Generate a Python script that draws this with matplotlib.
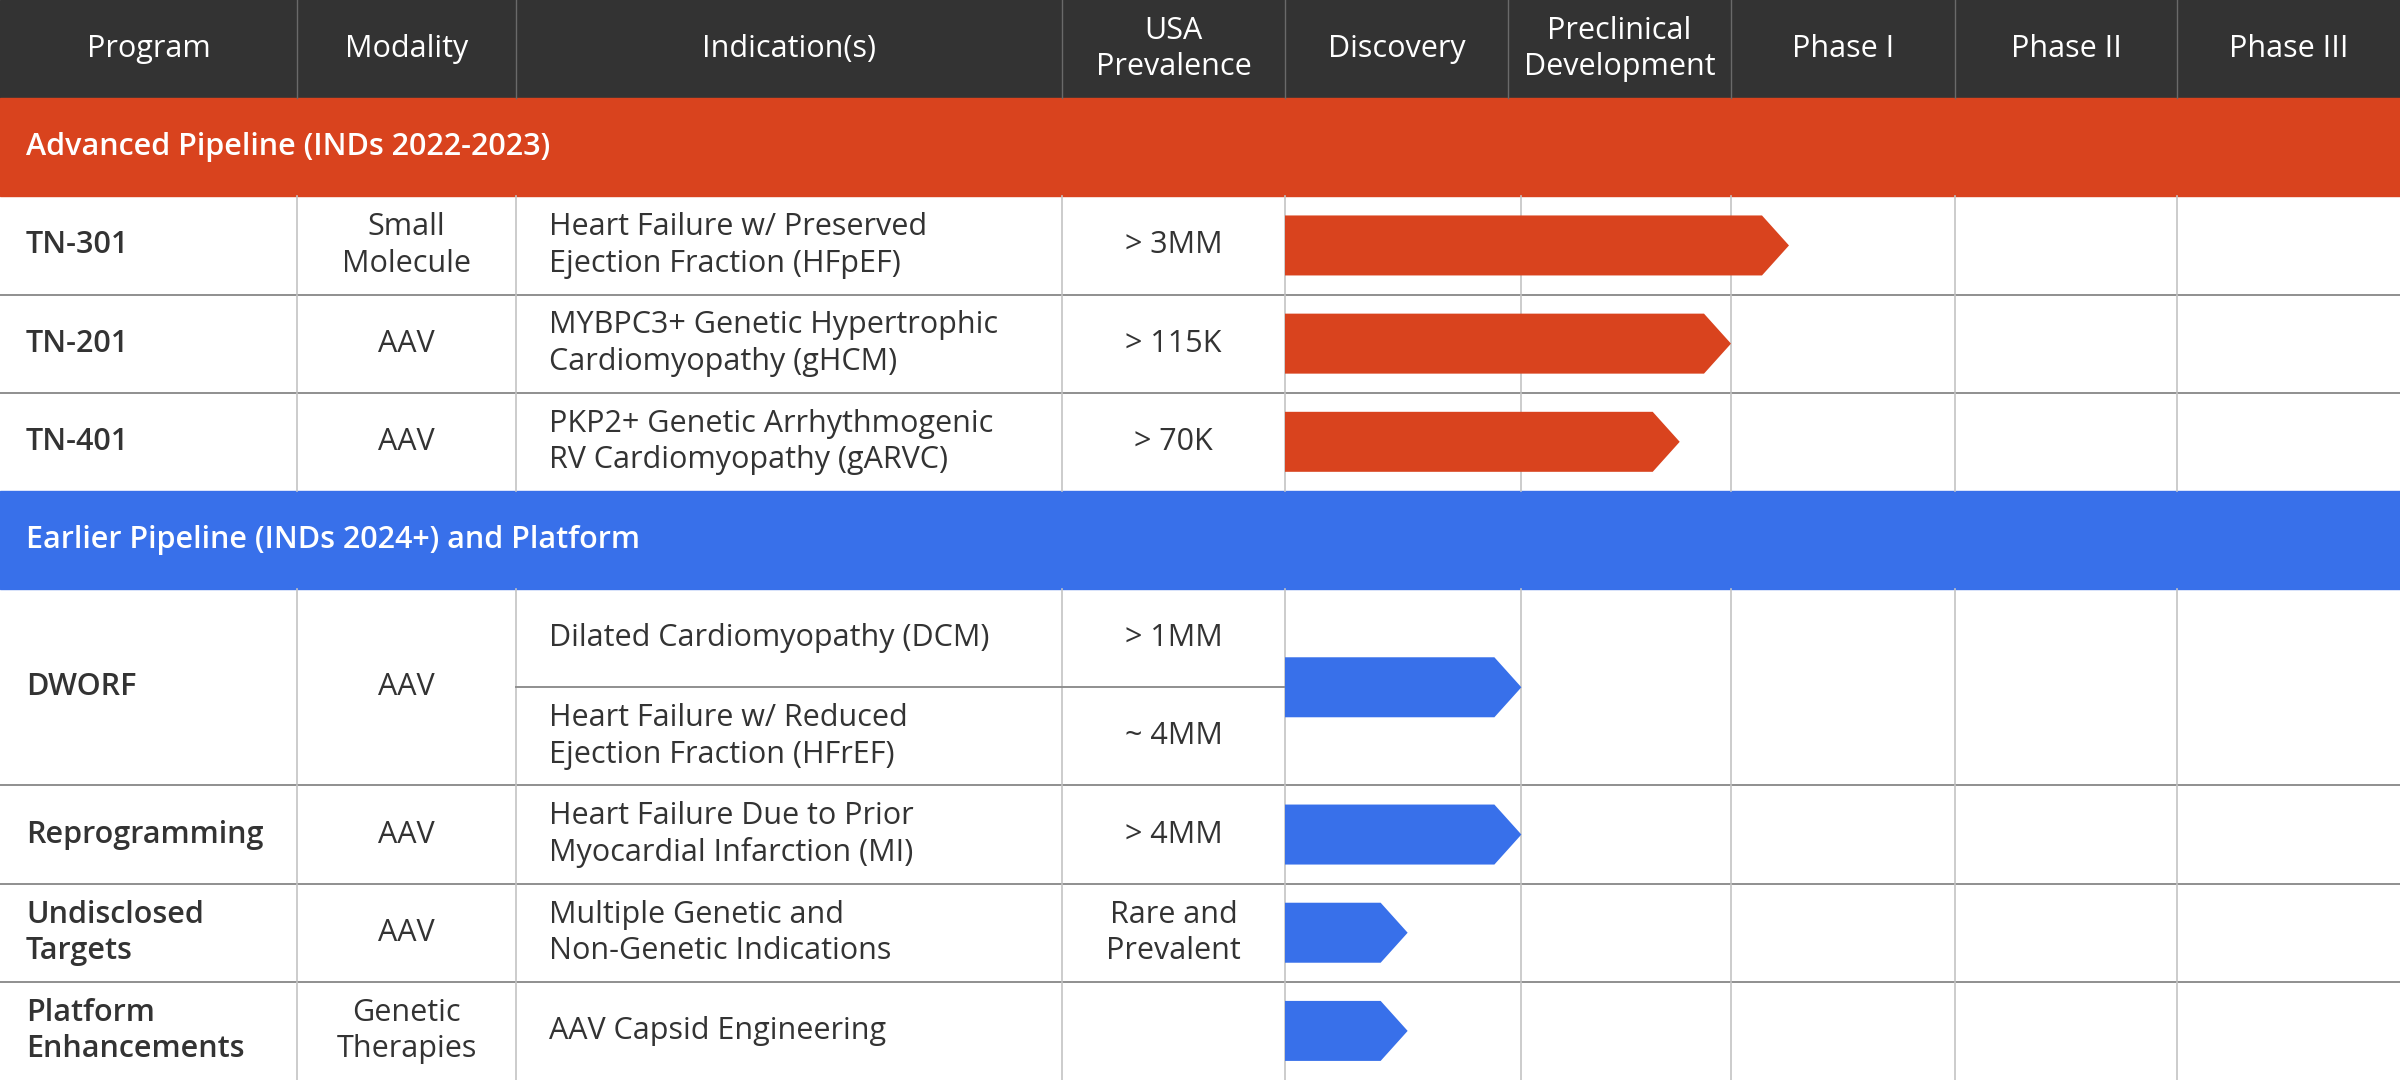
import matplotlib
matplotlib.use("Agg")
import matplotlib.pyplot as plt
from matplotlib.patches import Rectangle, Polygon

plt.rcParams['font.family'] = ['Open Sans', 'DejaVu Sans']

# table content
headers = ["Program", "Modality", "Indication(s)", "USA\nPrevalence", "Discovery",
           "Preclinical\nDevelopment", "Phase I", "Phase II", "Phase III"]
groups = ["Advanced Pipeline (INDs 2022-2023)", "Earlier Pipeline (INDs 2024+) and Platform"]
group_of = [0, 0, 0, 1, 1, 1, 1]
programs = ["TN-301", "TN-201", "TN-401", "DWORF", "Reprogramming",
            "Undisclosed\nTargets", "Platform\nEnhancements"]
modalities = ["Small\nMolecule", "AAV", "AAV", "AAV", "AAV", "AAV", "Genetic\nTherapies"]
indications = [
    ["Heart Failure w/ Preserved\nEjection Fraction (HFpEF)"],
    ["MYBPC3+ Genetic Hypertrophic\nCardiomyopathy (gHCM)"],
    ["PKP2+ Genetic Arrhythmogenic\nRV Cardiomyopathy (gARVC)"],
    ["Dilated Cardiomyopathy (DCM)", "Heart Failure w/ Reduced\nEjection Fraction (HFrEF)"],
    ["Heart Failure Due to Prior\nMyocardial Infarction (MI)"],
    ["Multiple Genetic and\nNon-Genetic Indications"],
    ["AAV Capsid Engineering"],
]
prevalence = [["> 3MM"], ["> 115K"], ["> 70K"], ["> 1MM", "~ 4MM"], ["> 4MM"],
              ["Rare and\nPrevalent"], [""]]
# progress in phase-column units from start of Discovery
progress = [2.26, 2.00, 1.77, 1.06, 1.06, 0.55, 0.55]

group_colors = ["#D9431E", "#3870EA"]
header_bg = "#333333"
text_dark = "#333333"

# layout (pixels)
W, H = 2400, 1080
U = H / 11.0
head_x = [0, 297, 516, 1062, 1285, 1508, 1731, 1955, 2177, 2400]
body_x = [0, 297, 516, 1062, 1285, 1521, 1731, 1955, 2177, 2400]
phase0, phase_w = 1285, 223
fs = 22
ls = 1.28

fig = plt.figure(figsize=(24, 10.8), dpi=100)
ax = fig.add_axes([0, 0, 1, 1])
ax.set_xlim(0, W)
ax.set_ylim(H, 0)
ax.axis('off')

# header
ax.add_patch(Rectangle((0, 0), W, U, color=header_bg, zorder=1))
for i, h in enumerate(headers):
    cx = (head_x[i] + head_x[i + 1]) / 2
    ax.text(cx, U / 2, h, color="white", fontsize=fs, ha="center", va="center",
            linespacing=ls, zorder=5)
for x in head_x[1:-1]:
    ax.plot([x, x], [0, U], color="#6a6a6a", lw=1.0, zorder=2)

y = U
prev_group = None
for r, prog in enumerate(programs):
    g = group_of[r]
    if g != prev_group:
        ax.add_patch(Rectangle((0, y), W, U, color=group_colors[g], zorder=1))
        ax.text(26, y + U / 2, groups[g], color="white", fontsize=fs, fontweight="semibold",
                ha="left", va="center", zorder=5)
        y += U
        prev_group = g
    n = len(indications[r])
    top, bot = y, y + n * U
    if r == len(programs) - 1:
        bot = H
    mid = (top + bot) / 2
    # vertical lines
    for x in body_x[1:-1]:
        ax.plot([x, x], [top, bot], color="#c4c4c4", lw=1.2, zorder=2)
    # bottom divider
    if r < len(programs) - 1 and group_of[r + 1] == g:
        ax.plot([0, W], [bot, bot], color="#8f8f8f", lw=1.4, zorder=2)
    ax.text(26, mid, prog, color=text_dark, fontsize=fs, fontweight="semibold",
            ha="left", va="center", linespacing=ls, zorder=5)
    ax.text((body_x[1] + body_x[2]) / 2, mid, modalities[r], color=text_dark, fontsize=fs,
            ha="center", va="center", linespacing=ls, zorder=5)
    for k in range(n):
        sy = top + (k + 0.5) * (bot - top) / n
        ax.text(549, sy, indications[r][k], color=text_dark, fontsize=fs,
                ha="left", va="center", linespacing=ls, zorder=5)
        ax.text((body_x[3] + body_x[4]) / 2, sy, prevalence[r][k], color=text_dark,
                fontsize=fs, ha="center", va="center", linespacing=ls, zorder=5)
        if k < n - 1:
            yy = top + (k + 1) * (bot - top) / n
            ax.plot([body_x[2], body_x[4]], [yy, yy], color="#8f8f8f", lw=1.4, zorder=2)
    # arrow bar
    tip = phase0 + progress[r] * phase_w
    hh, depth = 30, 27
    pts = [(phase0, mid - hh), (tip - depth, mid - hh), (tip, mid),
           (tip - depth, mid + hh), (phase0, mid + hh)]
    ax.add_patch(Polygon(pts, closed=True, color=group_colors[g], lw=0, zorder=3))
    y = bot

fig.savefig("out.png", dpi=100, facecolor="white")
